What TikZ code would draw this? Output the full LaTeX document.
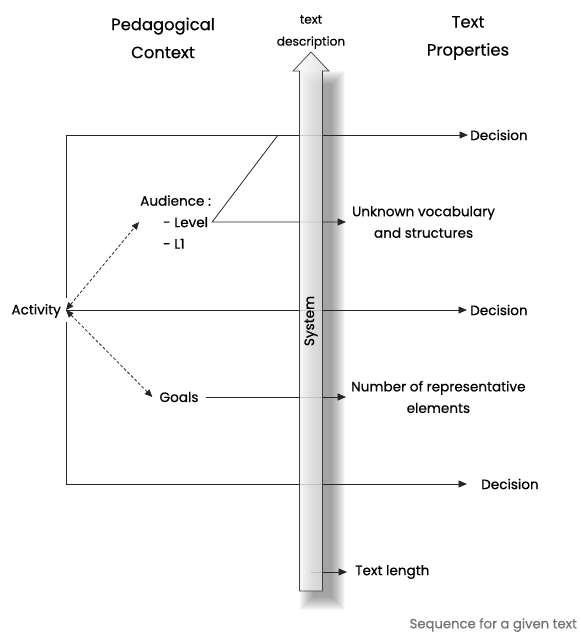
\documentclass[tikz,border=0pt]{standalone}
\usepackage{fontspec}
\setmainfont{Poppins}[FakeBold=0.5]
\usetikzlibrary{arrows.meta}

\begin{document}
\begin{tikzpicture}[x=1pt,y=-1pt,
    txt/.style={font=\fontsize{13.6}{21.5}\selectfont, align=center, inner sep=1pt},
    heading/.style={font=\fontsize{16.4}{28}\selectfont, align=center, inner sep=0pt},
    link/.style={draw=black!85, line width=.8pt},
    flow/.style={link, -{Triangle[length=8.5pt,width=7pt]}},
    assoc/.style={link, densely dashed, {Triangle[length=7.5pt,width=6.5pt]}-{Triangle[length=7.5pt,width=6.5pt]}}]
  \useasboundingbox (0,0) rectangle (579,632);

  % headings
  \node[heading] (ctx) at (163,38) {Pedagogical\\Context};
  \node[heading] (prop) at (468,38) {Text\\Properties};
  \node[txt, font=\fontsize{12.2}{22}\selectfont] (desc) at (311,32) {text\\description};

  % soft shadow of the system arrow
  \foreach \r in {1,...,14}
    \fill[black, opacity=.032] (314-\r,85-\r) rectangle (331+\r,596+\r);

  % corners of the frame
  \coordinate (tl) at (66,135);
  \coordinate (bl) at (66,484);
  \coordinate (split) at (278,135);
  \coordinate (lenstart) at (311,572);

  % labels
  \node[txt, anchor=east] (act) at (62,311) {Activity};
  \node[txt, anchor=west, align=left] (aud) at (139,222) {Audience :\\\hspace*{23pt}- Level\\\hspace*{23pt}- L1};
  \node[txt, inner xsep=7pt] (goals) at (179,397) {Goals};
  \node[txt, anchor=west, inner xsep=2pt] (dec1) at (468,135) {Decision};
  \node[txt, anchor=west, inner xsep=3pt] (dec2) at (467,310) {Decision};
  \node[txt, anchor=west, inner xsep=14pt] (dec3) at (467,484) {Decision};
  \node[txt, anchor=west, inner xsep=6pt] (vocab) at (346,222) {Unknown vocabulary\\and structures};
  \node[txt, anchor=west, inner xsep=5pt] (elems) at (346,397) {Number of representative\\elements};
  \node[txt, anchor=west, inner xsep=8pt] (len) at (347,572) {Text length};
  \node[txt, anchor=east, text=black!55, font=\fontsize{13.2}{16}\selectfont] (seq) at (578,625) {Sequence for a given text};

  % frame
  \draw[link] (tl) -- (bl);
  \node[fill=white, inner sep=0pt, minimum width=4pt, minimum height=24pt] (hub) at (66,310) {};

  % flows
  \draw[flow] (tl) -- (dec1.west);
  \draw[flow] (hub.center) -- (dec2.west);
  \draw[flow] (bl) -- (dec3.west);
  \draw[flow] (split) -- (aud.east) -- (vocab.west);
  \draw[flow] (goals.east) -- (elems.west);
  \draw[flow] (lenstart) -- (len.west);
  \draw[assoc] (hub.center) -- (aud.west);
  \draw[assoc] (hub.center) -- (goals.west);

  % system arrow
  \shadedraw[left color=white, right color=black!15, fill opacity=.8, draw=black!75, line width=.7pt]
    (299.5,591) -- (299.5,71) -- (293,71) -- (311,52) -- (329,71) -- (322.5,71) -- (322.5,591) -- cycle;
  \node[txt, rotate=90] (sys) at (311,321) {System};
\end{tikzpicture}
\end{document}
